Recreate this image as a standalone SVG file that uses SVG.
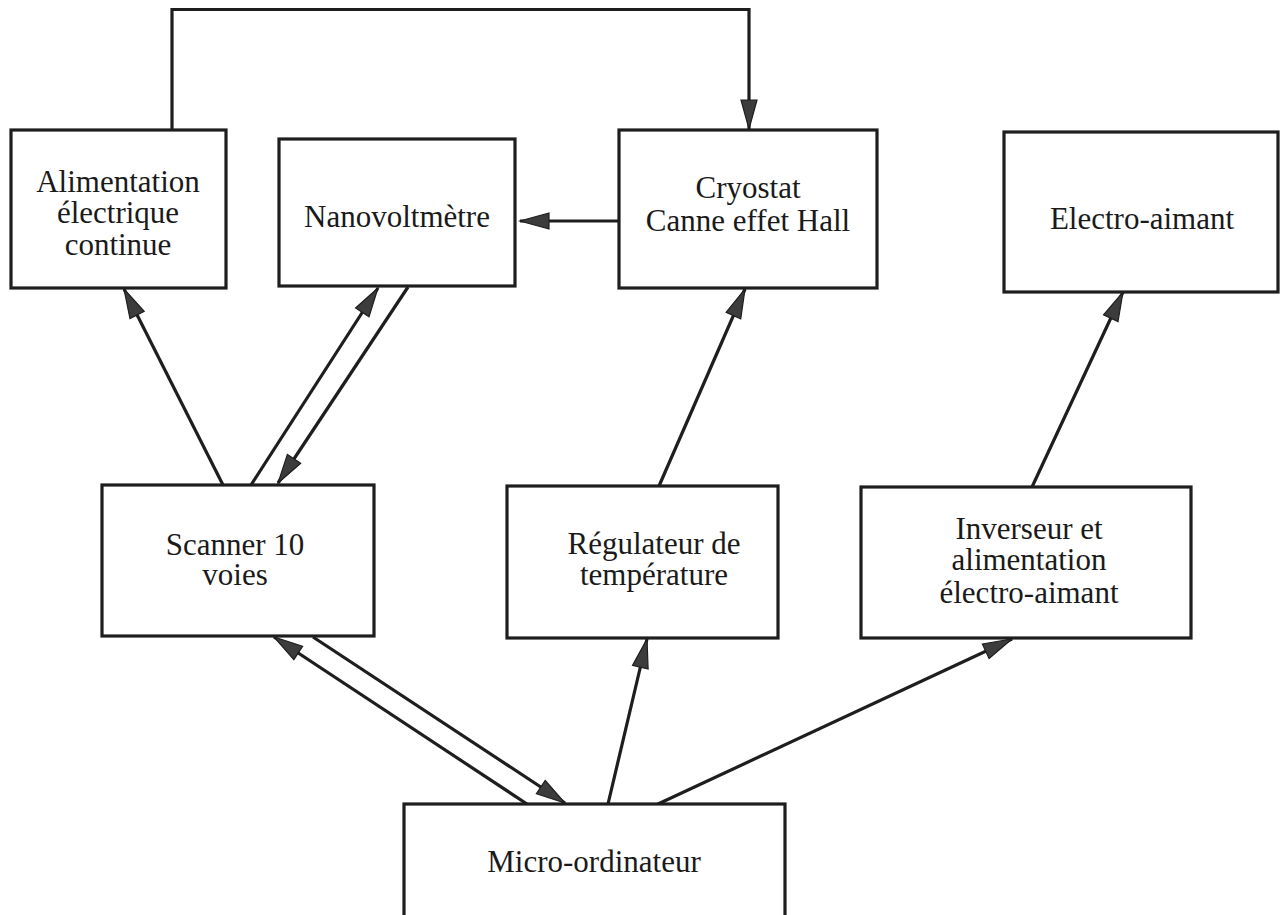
<svg xmlns="http://www.w3.org/2000/svg" width="1284" height="915" viewBox="0 0 1284 915">
<defs>
<style>
.box{fill:#fff;stroke:#1e1e1e;stroke-width:3.2}
.lbl{font-family:"Liberation Serif","Times New Roman",serif;font-size:31px;fill:#1a1a1a;text-anchor:middle}
.con{fill:none;stroke:#1e1e1e;stroke-width:3.2;marker-end:url(#ah)}
.plain{fill:none;stroke:#1e1e1e;stroke-width:3.2}
</style>
<marker id="ah" markerUnits="userSpaceOnUse" markerWidth="34" markerHeight="20" viewBox="0 0 34 20" refX="31" refY="10" orient="auto">
<path d="M2,2 L31,10 L2,18 z" fill="#3c3c3c" stroke="#1e1e1e" stroke-width="1.2" stroke-linejoin="miter"/>
</marker>
</defs>
<rect width="1284" height="915" fill="#fff"/>
<g id="connectors">
<polyline class="con" points="172,130 172,9.5 749,9.5 749,129"/>
<line class="con" x1="619" y1="221" x2="520" y2="221"/>
<line class="con" x1="223" y1="485" x2="124" y2="289"/>
<line class="con" x1="251" y1="485" x2="378" y2="288"/>
<line class="con" x1="408" y1="287" x2="278" y2="483"/>
<line class="con" x1="659" y1="486" x2="745" y2="289"/>
<line class="con" x1="1032" y1="487" x2="1123" y2="292"/>
<line class="con" x1="527" y1="804" x2="274" y2="637"/>
<line class="con" x1="313" y1="637" x2="565" y2="803"/>
<line class="con" x1="608" y1="804" x2="647" y2="639"/>
<line class="con" x1="658" y1="804" x2="1012" y2="639"/>
</g>
<g id="alimentation">
<rect class="box" x="11" y="130" width="215" height="158"/>
<text class="lbl" x="118" y="192">Alimentation</text>
<text class="lbl" x="118" y="223">électrique</text>
<text class="lbl" x="118" y="255">continue</text>
</g>
<g id="nanovoltmetre">
<rect class="box" x="279" y="139" width="236" height="147"/>
<text class="lbl" x="397" y="227">Nanovoltmètre</text>
</g>
<g id="cryostat">
<rect class="box" x="619" y="130" width="258" height="158"/>
<text class="lbl" x="748" y="198">Cryostat</text>
<text class="lbl" x="748" y="231">Canne effet Hall</text>
</g>
<g id="electroaimant">
<rect class="box" x="1004" y="132" width="274" height="160"/>
<text class="lbl" x="1142" y="229">Electro-aimant</text>
</g>
<g id="scanner">
<rect class="box" x="102" y="485" width="272" height="151"/>
<text class="lbl" x="235" y="555">Scanner 10</text>
<text class="lbl" x="235" y="585">voies</text>
</g>
<g id="regulateur">
<rect class="box" x="507" y="486" width="271" height="152"/>
<text class="lbl" x="654" y="554">Régulateur de</text>
<text class="lbl" x="654" y="585">température</text>
</g>
<g id="inverseur">
<rect class="box" x="861" y="487" width="330" height="151"/>
<text class="lbl" x="1029" y="539">Inverseur et</text>
<text class="lbl" x="1029" y="570">alimentation</text>
<text class="lbl" x="1029" y="603">électro-aimant</text>
</g>
<g id="microordinateur">
<rect class="box" x="404" y="804" width="381" height="130"/>
<text class="lbl" x="594" y="872">Micro-ordinateur</text>
</g>
</svg>
